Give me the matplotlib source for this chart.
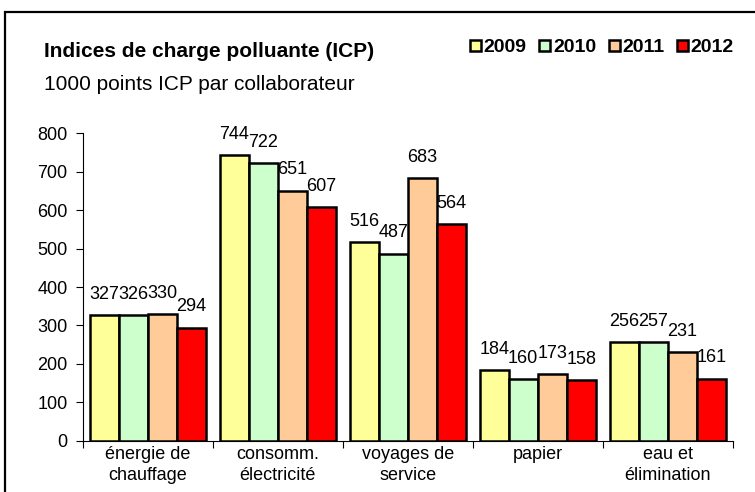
import numpy as np
import matplotlib.pyplot as plt
from matplotlib.patches import Rectangle

plt.rcParams['font.family'] = ['Liberation Sans', 'DejaVu Sans']

# Données
categories = ["énergie de\nchauffage", "consomm.\nélectricité", "voyages de\nservice",
              "papier", "eau et\nélimination"]
years = ["2009", "2010", "2011", "2012"]
v2009 = [327, 744, 516, 184, 256]
v2010 = [326, 722, 487, 160, 257]
v2011 = [330, 651, 683, 173, 231]
v2012 = [294, 607, 564, 158, 161]
series = [v2009, v2010, v2011, v2012]
colors = ['#FFFF99', '#CCFFCC', '#FFCC99', '#FF0000']

fig = plt.figure(figsize=(7.55, 4.92), dpi=100)
ax = fig.add_axes([0.1095, 0.1043, 0.861, 0.6247])

x = np.arange(len(categories))
w = 0.223
bars = []
for j, (vals, c) in enumerate(zip(series, colors)):
    b = ax.bar(x + (j - 1.5) * w, vals, w, color=c, edgecolor='black',
               linewidth=1.8, label=years[j], zorder=3)
    bars.append(b)
    for xi, v in zip(x + (j - 1.5) * w, vals):
        ax.annotate(str(v), (xi, v), xytext=(0, 15), textcoords='offset points',
                    ha='center', va='center', fontsize=13)

ax.set_xlim(-0.5, len(categories) - 0.5)
ax.set_ylim(0, 800)
ax.set_yticks(range(0, 801, 100))
ax.set_xticks(np.arange(-0.5, len(categories), 1.0))
ax.set_xticklabels([])
ax.set_xticks(x, minor=True)
ax.set_xticklabels(categories, minor=True, fontsize=13, linespacing=1.3)
ax.tick_params(axis='x', which='minor', length=0, pad=4)
ax.tick_params(axis='x', which='major', length=5, direction='out')
ax.tick_params(axis='y', length=5, direction='out', labelsize=13, pad=6)
for s in ['top', 'right']:
    ax.spines[s].set_visible(False)

# Titres
fig.text(0.058, 1 - 57 / 492, "Indices de charge polluante (ICP)", fontsize=15,
         fontweight='bold', va='baseline')
fig.text(0.058, 1 - 90 / 492, "1000 points ICP par collaborateur", fontsize=15,
         va='baseline')

fig.legend(handles=bars, loc='center right', bbox_to_anchor=(0.985, 1 - 48 / 492), ncol=4,
           frameon=False, handlelength=0.55, handleheight=0.55, handletextpad=0.15,
           columnspacing=0.65, borderpad=0, prop={'weight': 'bold', 'size': 14})

# Cadre
fig.add_artist(Rectangle((0.0066, -0.1), 1.1, 1.1 - 12 / 492, transform=fig.transFigure,
                         fill=False, edgecolor='black', linewidth=1.6))

plt.savefig("out.png", dpi=100)
